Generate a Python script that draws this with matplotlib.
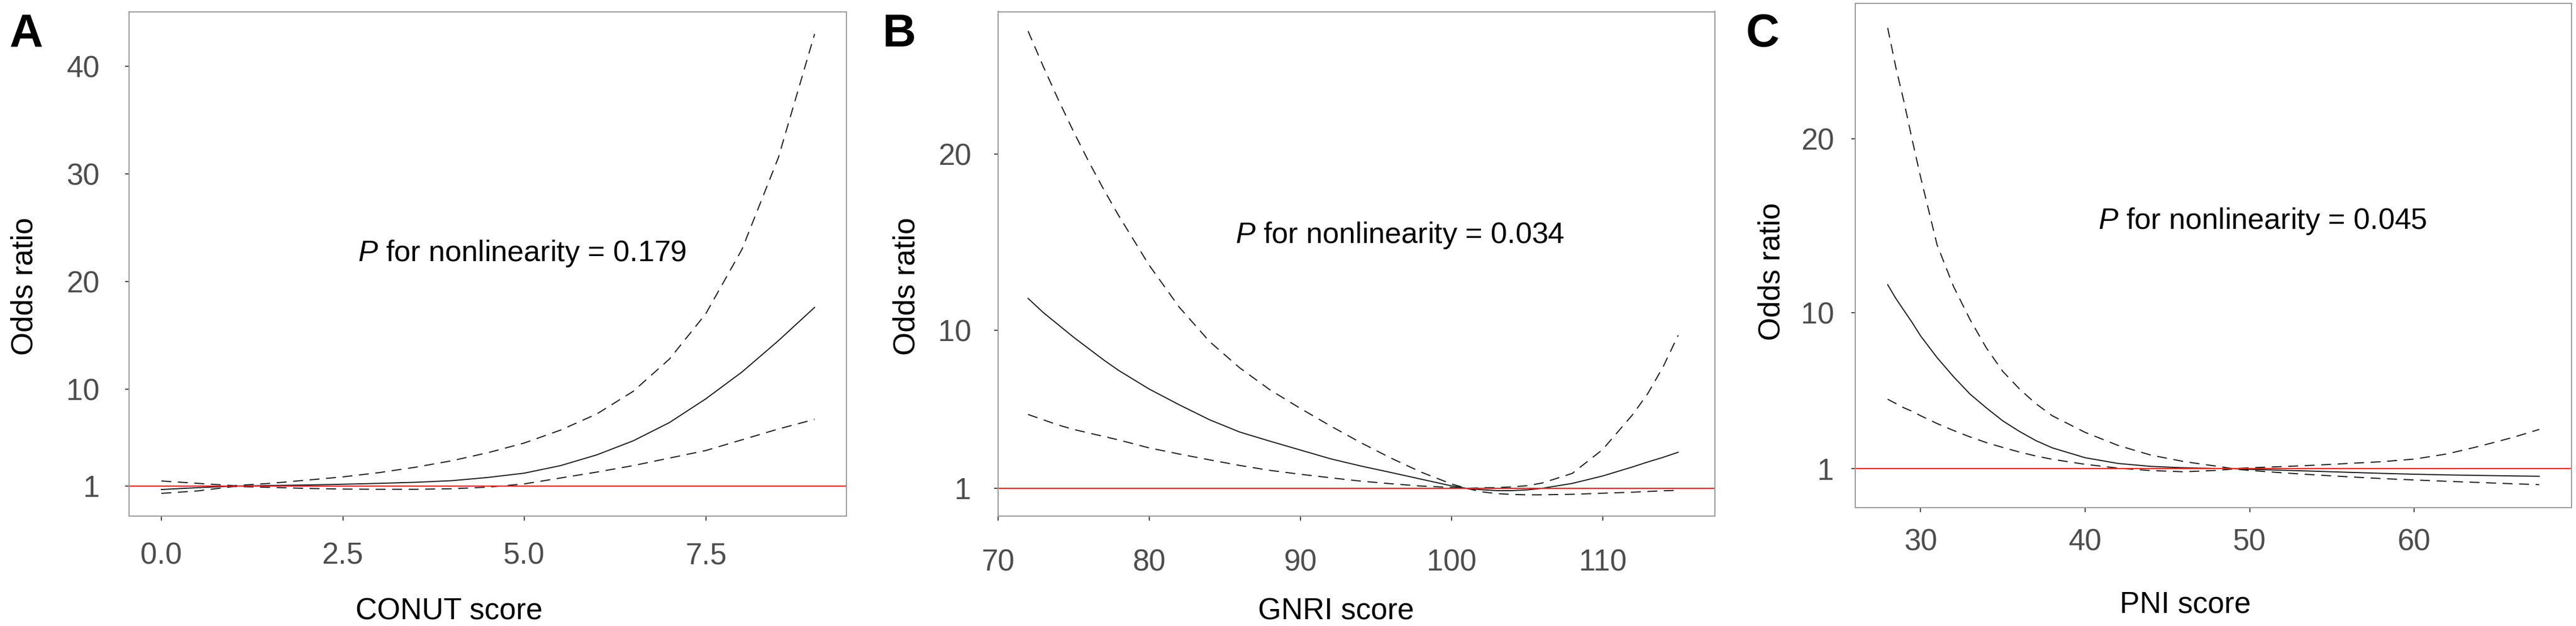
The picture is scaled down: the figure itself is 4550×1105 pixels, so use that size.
"""Restricted cubic spline plots of odds ratio against three nutrition scores
(CONUT, GNRI, PNI), drawn as three side-by-side panels."""

import matplotlib
matplotlib.use("Agg")
import matplotlib.pyplot as plt

# fonts: Liberation Sans is metric compatible with Arial
plt.rcParams["font.family"] = ["Liberation Sans", "DejaVu Sans"]
plt.rcParams["mathtext.fontset"] = "custom"
plt.rcParams["mathtext.rm"] = "Liberation Sans"
plt.rcParams["mathtext.it"] = "Liberation Sans:italic"

# DATA
############################

# panel A, CONUT
conut_x = [0.0, 0.5, 1.0, 1.5, 2.0, 2.5, 3.0, 3.5, 4.0, 4.5,
           5.0, 5.5, 6.0, 6.5, 7.0, 7.5, 8.0, 8.5, 9.0]
conut_or = [0.68, 0.85, 1.0, 1.05, 1.1, 1.17, 1.25, 1.35, 1.5, 1.8,
            2.2, 2.9, 3.9, 5.2, 6.9, 9.1, 11.6, 14.5, 17.6]
conut_upper = [1.47, 1.25, 1.04, 1.25, 1.55, 1.85, 2.25, 2.75, 3.35, 4.1,
               5.0, 6.2, 7.7, 9.8, 12.8, 17.0, 23.0, 31.5, 43.0]
conut_lower = [0.32, 0.55, 0.96, 0.88, 0.78, 0.72, 0.7, 0.7, 0.75, 0.9,
               1.2, 1.75, 2.3, 2.9, 3.6, 4.3, 5.3, 6.3, 7.2]

# panel B, GNRI
gnri_x = [72, 73, 74, 75, 76, 77, 78, 80, 82, 84, 86, 88, 90, 92, 94,
          96, 98, 100, 101, 102, 103, 104, 105, 106, 108, 110, 112, 113, 114, 115]
gnri_or = [11.8, 11.0, 10.3, 9.6, 8.95, 8.3, 7.7, 6.65, 5.75, 4.9, 4.2, 3.68,
           3.18, 2.68, 2.27, 1.9, 1.52, 1.14, 1.0, 0.92, 0.87, 0.87, 0.91, 1.0,
           1.28, 1.7, 2.22, 2.5, 2.76, 3.05]
gnri_upper = [27.0, 25.0, 23.1, 21.3, 19.6, 18.0, 16.5, 13.7, 11.3, 9.35, 7.85,
              6.6, 5.55, 4.55, 3.6, 2.72, 1.92, 1.25, 1.0, 1.03, 1.04, 1.08, 1.15,
              1.3, 1.85, 3.2, 5.2, 6.4, 7.9, 9.7]
gnri_lower = [5.2, 4.9, 4.6, 4.35, 4.15, 3.95, 3.75, 3.3, 2.95, 2.62, 2.3,
              2.02, 1.8, 1.6, 1.41, 1.26, 1.13, 1.05, 1.0, 0.8, 0.7, 0.65, 0.63,
              0.63, 0.66, 0.72, 0.78, 0.82, 0.86, 0.89]

# panel C, PNI
pni_x = [28, 28.5, 29, 29.5, 30, 31, 32, 33, 34, 35, 36, 37, 38, 40, 42,
         44, 46, 48, 49, 50, 52, 54, 56, 58, 60, 62, 64, 66, 67.6]
pni_or = [11.6, 10.8, 10.1, 9.4, 8.65, 7.4, 6.3, 5.3, 4.5, 3.75, 3.15, 2.62,
          2.2, 1.63, 1.3, 1.13, 1.05, 1.01, 1.0, 0.96, 0.91, 0.85, 0.79, 0.73,
          0.68, 0.64, 0.61, 0.58, 0.56]
pni_upper = [26.4, 24.1, 22.1, 19.9, 17.8, 13.9, 11.5, 9.6, 7.95, 6.6, 5.6,
             4.75, 4.05, 3.09, 2.34, 1.78, 1.41, 1.14, 1.0, 1.05, 1.12, 1.2,
             1.3, 1.4, 1.55, 1.85, 2.3, 2.8, 3.26]
pni_lower = [5.0, 4.75, 4.5, 4.3, 4.05, 3.6, 3.2, 2.83, 2.5, 2.22, 1.96, 1.73,
             1.54, 1.25, 1.03, 0.89, 0.82, 0.9, 0.98, 0.9, 0.76, 0.64, 0.53,
             0.43, 0.35, 0.27, 0.2, 0.13, 0.08]

conut_xticks = [0.0, 2.5, 5.0, 7.5]
conut_xticklabels = ["0.0", "2.5", "5.0", "7.5"]
gnri_xticks = [70, 80, 90, 100, 110]
pni_xticks = [30, 40, 50, 60]
conut_yticks = [1, 10, 20, 30, 40]
other_yticks = [1, 10, 20]

p_values = ["0.179", "0.034", "0.045"]

# LAYOUT
########

W, H = 4550, 1105
FONT = 38
LINE_COL = "#1a1a1a"


def px_box(left, top, right, bottom):
    """Convert a pixel box of the target picture to an axes rect."""
    return [left / W, 1 - bottom / H, (right - left) / W, (bottom - top) / H]


def draw_panel(ax, x, est, lo, hi, p_text, note_xy, xlim, ylim,
               xticks, xticklabels, yticks, xpad, ypad):
    """Spline estimate, dashed 95% CI and a red reference line at OR = 1."""
    ax.plot(x, hi, color=LINE_COL, lw=1.4, dashes=(9, 6))
    ax.plot(x, lo, color=LINE_COL, lw=1.4, dashes=(9, 6))
    ax.plot(x, est, color=LINE_COL, lw=1.4)
    ax.axhline(1, color="#ee2222", lw=1.5)

    ax.set_xlim(*xlim)
    ax.set_ylim(*ylim)
    ax.set_xticks(xticks)
    ax.set_xticklabels(xticklabels)
    ax.set_yticks(yticks)
    ax.set_yticklabels([str(t) for t in yticks])

    for side in ax.spines.values():
        side.set_color("#9a9a9a")
        side.set_linewidth(1.4)
    ax.tick_params(direction="out", length=5.4, width=1.4, color="#444444",
                   labelsize=FONT, labelcolor="#4d4d4d")
    ax.tick_params(axis="x", pad=xpad)
    ax.tick_params(axis="y", pad=ypad)

    ax.text(note_xy[0], note_xy[1], r"$P$ for nonlinearity = " + p_text,
            ha="center", va="baseline", fontsize=37.5, color="black")


fig = plt.figure(figsize=(W / 100, H / 100), dpi=100)

ax_a = fig.add_axes(px_box(228, 21, 1495, 911))
draw_panel(ax_a, conut_x, conut_or, conut_lower, conut_upper, p_values[0],
           (4.97, 21.9), (-0.445, 9.438), (-1.79, 45.05),
           conut_xticks, conut_xticklabels, conut_yticks, 27, 32)

ax_b = fig.add_axes(px_box(1762.5, 20.5, 3029, 911))
draw_panel(ax_b, gnri_x, gnri_or, gnri_lower, gnri_upper, p_values[1],
           (96.6, 14.96), (70.0, 117.43), (-0.58, 28.11),
           gnri_xticks, [str(t) for t in gnri_xticks], other_yticks, 36, 28.5)

ax_c = fig.add_axes(px_box(3277, 6, 4542, 896))
draw_panel(ax_c, pni_x, pni_or, pni_lower, pni_upper, p_values[2],
           (50.8, 14.83), (26.03, 69.56), (-1.244, 27.81),
           pni_xticks, [str(t) for t in pni_xticks], other_yticks, 21, 21.5)

# axis titles and panel letters, placed in figure pixels
for cx, base, label in [(793, 1093, "CONUT score"), (2360, 1093, "GNRI score"),
                        (3860, 1081, "PNI score")]:
    fig.text(cx / W, 1 - base / H, label, ha="center", va="baseline",
             fontsize=FONT, color="black")

for cx, cy in [(44, 505), (1602, 505), (3130, 479)]:
    fig.text(cx / W, 1 - cy / H, "Odds ratio", rotation=90, ha="center",
             va="center", fontsize=FONT, color="black")

for lx, letter in [(17, "A"), (1558, "B"), (3084, "C")]:
    fig.text(lx / W, 1 - 82 / H, letter, ha="left", va="baseline",
             fontsize=59, fontweight="bold", color="black")

fig.savefig("out.png", dpi=100)
